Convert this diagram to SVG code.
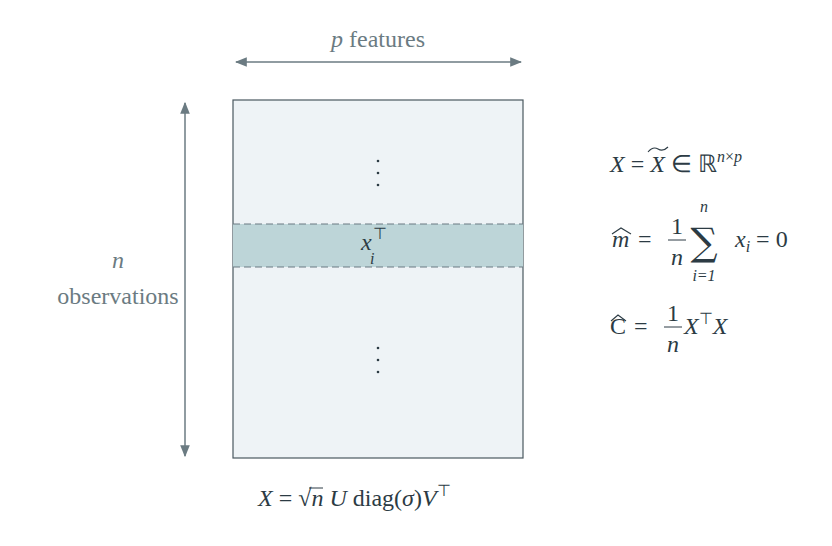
<svg xmlns="http://www.w3.org/2000/svg" width="832" height="546" viewBox="0 0 832 546">
<defs>
<marker id="ah" viewBox="0 0 10 10" refX="9" refY="5" markerWidth="12" markerHeight="12" markerUnits="userSpaceOnUse" orient="auto-start-reverse"><path d="M0,1 L10,5 L0,9 Z" fill="#6b7b82"/></marker>
<style>
.lbl{font-family:"Liberation Serif",serif;font-size:24px;fill:#6b7b82}
.m{font-family:"Liberation Serif",serif;font-size:24px;fill:#2c3b44}
.i{font-style:italic}
.s{font-size:16px}
.ax{stroke:#6b7b82;stroke-width:1.5;fill:none}
.acc{stroke:#2c3b44;stroke-width:1.1;fill:none}
</style>
</defs>
<rect width="832" height="546" fill="#fff"/>
<g id="matrix">
<rect x="233" y="100" width="290" height="358" fill="#eef3f6" stroke="#4a5960" stroke-width="1.2"/>
<rect x="233" y="224" width="290" height="43" fill="#bdd5d8"/>
<line x1="233" y1="224" x2="523" y2="224" stroke="#6b7b82" stroke-width="1.2" stroke-dasharray="7,4"/>
<line x1="233" y1="267" x2="523" y2="267" stroke="#6b7b82" stroke-width="1.2" stroke-dasharray="7,4"/>
<g fill="#2c3b44"><circle cx="378" cy="161" r="1.3"/><circle cx="378" cy="173" r="1.3"/><circle cx="378" cy="185" r="1.3"/>
<circle cx="378" cy="348" r="1.3"/><circle cx="378" cy="360" r="1.3"/><circle cx="378" cy="372" r="1.3"/></g>
<text class="m i" x="361" y="250">x</text>
<text class="m i s" x="370" y="264">i</text>
<text class="m s" x="373" y="239">⊤</text>
</g>
<g id="connectors">
<line class="ax" x1="236" y1="62" x2="521" y2="62" marker-start="url(#ah)" marker-end="url(#ah)"/>
<line class="ax" x1="185" y1="103" x2="185" y2="456" marker-start="url(#ah)" marker-end="url(#ah)"/>
</g>
<g id="labels">
<text class="lbl" x="378" y="47" text-anchor="middle"><tspan font-style="italic">p</tspan> features</text>
<text class="lbl i" x="118" y="268" text-anchor="middle">n</text>
<text class="lbl" x="118" y="304" text-anchor="middle">observations</text>
</g>
<g id="equations">
<text class="m" x="610" y="172"><tspan class="i">X</tspan> = <tspan class="i">X</tspan> ∈ ℝ<tspan class="i s" dy="-10">n</tspan><tspan class="s">×</tspan><tspan class="i s">p</tspan></text>
<path class="acc" d="M648,152 Q653,146 658,149 T668,147"/>
<text class="m i" x="612" y="247">m</text>
<path class="acc" d="M612,234 L621,228 L631,234"/>
<text class="m" x="638" y="247">=</text>
<text class="m" x="677" y="234" text-anchor="middle">1</text>
<line x1="668" y1="240" x2="686" y2="240" stroke="#2c3b44" stroke-width="1"/>
<text class="m i" x="677" y="265" text-anchor="middle">n</text>
<text x="704" y="255" text-anchor="middle" font-family="DejaVu Serif,serif" font-size="38" fill="#2c3b44">∑</text>
<text class="m i s" x="704" y="212" text-anchor="middle">n</text>
<text class="m i s" x="704" y="281" text-anchor="middle">i=1</text>
<text class="m" x="735" y="247"><tspan class="i">x</tspan><tspan class="i s" dy="5">i</tspan><tspan dy="-5"> = 0</tspan></text>
<text class="m" x="610" y="334">C</text>
<path class="acc" d="M611,321 L618,315 L626,321"/>
<text class="m" x="634" y="334">=</text>
<text class="m" x="673" y="321" text-anchor="middle">1</text>
<line x1="664" y1="327" x2="682" y2="327" stroke="#2c3b44" stroke-width="1"/>
<text class="m i" x="673" y="352" text-anchor="middle">n</text>
<text class="m" x="684" y="334"><tspan class="i">X</tspan><tspan class="s" dy="-10">⊤</tspan><tspan class="i" dy="10">X</tspan></text>
<text class="m" x="258" y="506"><tspan class="i">X</tspan> = √<tspan class="i">n</tspan> <tspan class="i">U</tspan> diag(<tspan class="i">σ</tspan>)<tspan class="i">V</tspan><tspan class="s" dy="-10">⊤</tspan></text>
<line x1="309" y1="488" x2="323" y2="488" stroke="#2c3b44" stroke-width="1"/>
</g>
</svg>
